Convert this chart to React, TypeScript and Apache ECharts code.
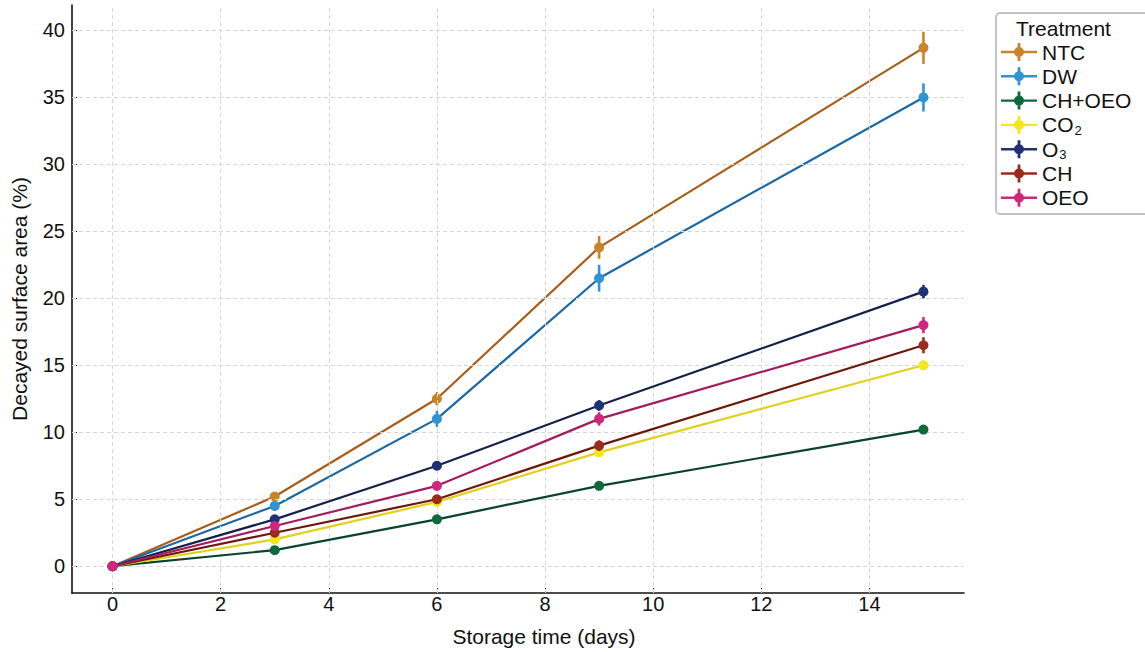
import React, { useEffect, useRef } from "react";
import * as echarts from "echarts";

const days = [0, 3, 6, 9, 15];
const seriesNames = ["NTC", "DW", "CH+OEO", "CO₂", "O₃", "CH", "OEO"];
const ntc = [0, 5.2, 12.5, 23.8, 38.7];
const ntcErr = [0, 0.3, 0.5, 0.85, 1.2];
const dw = [0, 4.5, 11.0, 21.5, 35.0];
const dwErr = [0, 0.3, 0.6, 1.0, 1.05];
const chOeo = [0, 1.2, 3.5, 6.0, 10.2];
const chOeoErr = [0, 0.2, 0.25, 0.25, 0.25];
const co2 = [0, 2.0, 4.8, 8.5, 15.0];
const co2Err = [0, 0.2, 0.3, 0.35, 0.35];
const o3 = [0, 3.5, 7.5, 12.0, 20.5];
const o3Err = [0, 0.25, 0.3, 0.4, 0.5];
const ch = [0, 2.5, 5.0, 9.0, 16.5];
const chErr = [0, 0.25, 0.3, 0.4, 0.6];
const oeo = [0, 3.0, 6.0, 11.0, 18.0];
const oeoErr = [0, 0.3, 0.35, 0.5, 0.6];
const yTicks = [0, 5, 10, 15, 20, 25, 30, 35, 40];
const xTicks = [0, 2, 4, 6, 8, 10, 12, 14];

const values = [ntc, dw, chOeo, co2, o3, ch, oeo];
const errors = [ntcErr, dwErr, chOeoErr, co2Err, o3Err, chErr, oeoErr];
const lineColors = ["#a85e18", "#1a68a6", "#0b4429", "#e0d11c", "#16214b", "#6c190c", "#a21c5e"];
const markerColors = ["#c8842b", "#2f93d6", "#0e6a3a", "#f3e61a", "#1f3175", "#9b2b1a", "#d0267e"];

const FONT = "'Liberation Sans', Arial, Helvetica, sans-serif";
const ICON = "path://M0,7.8H36V10.2H0Z M16.6,0H19.4V18H16.6Z M13,9A5,5 0 1 1 23,9A5,5 0 1 1 13,9Z";

export default function App() {
  const ref = useRef<HTMLDivElement>(null);
  useEffect(() => {
    if (!ref.current) return;
    const chart = echarts.init(ref.current, null, { renderer: "svg" });
    const series: any[] = [];
    series.push({
      type: "line",
      name: "grid",
      data: [],
      z: 0,
      silent: true,
      markLine: {
        silent: true,
        symbol: "none",
        label: { show: false },
        lineStyle: { color: "#d6d6d6", type: [4, 3], width: 1 },
        data: [
          ...yTicks.map((v) => ({ yAxis: v })),
          ...xTicks.map((v) => ({ xAxis: v })),
        ],
      },
    });
    values.forEach((vals, i) => {
      series.push({
        type: "line",
        name: seriesNames[i],
        z: 2 + i * 2,
        data: days.map((d, j) => [d, vals[j]]),
        symbol: "circle",
        symbolSize: 10,
        showSymbol: false,
        lineStyle: { color: lineColors[i], width: 2.2 },
        itemStyle: { color: markerColors[i], borderWidth: 0 },
      });
      series.push({
        type: "custom",
        name: seriesNames[i] + " err",
        z: 3 + i * 2,
        silent: true,
        data: days.map((d, j) => [d, vals[j], vals[j] - errors[i][j], vals[j] + errors[i][j]]),
        renderItem: (params: any, api: any) => {
          const x = api.value(0);
          const c = api.coord([x, api.value(1)]);
          const lo = api.coord([x, api.value(2)]);
          const hi = api.coord([x, api.value(3)]);
          return {
            type: "group",
            children: [
              {
                type: "line",
                shape: { x1: lo[0], y1: lo[1], x2: hi[0], y2: hi[1] },
                style: { stroke: markerColors[i], lineWidth: 2.6 },
              },
              {
                type: "circle",
                shape: { cx: c[0], cy: c[1], r: 5 },
                style: { fill: markerColors[i], stroke: "none" },
              },
            ],
          };
        },
      });
    });

    chart.setOption({
      animation: false,
      backgroundColor: "#ffffff",
      textStyle: { fontFamily: FONT },
      grid: { left: 72, top: 5, right: 181, bottom: 59, containLabel: false },
      xAxis: {
        type: "value",
        min: -0.75,
        max: 15.75,
        name: "Storage time (days)",
        nameLocation: "middle",
        nameGap: 33,
        nameTextStyle: { fontSize: 21, color: "#111", fontFamily: FONT, padding: [0, 0, 0, 52] },
        axisLine: { show: true, onZero: false, lineStyle: { color: "#111", width: 1.6 } },
        axisTick: { show: true, inside: true, length: 5, customValues: xTicks, lineStyle: { color: "#111", width: 1 } },
        axisLabel: { show: true, customValues: xTicks, fontSize: 20, color: "#111", margin: 1, fontFamily: FONT },
        splitLine: { show: false },
      },
      yAxis: {
        type: "value",
        min: -2,
        max: 41.9,
        name: "Decayed surface area (%)",
        nameLocation: "middle",
        nameGap: 42,
        nameTextStyle: { fontSize: 21, color: "#111", fontFamily: FONT },
        axisLine: { show: true, onZero: false, lineStyle: { color: "#111", width: 1.6 } },
        axisTick: { show: true, inside: true, length: 5, customValues: yTicks, lineStyle: { color: "#111", width: 1 } },
        axisLabel: { show: true, customValues: yTicks, fontSize: 20, color: "#111", margin: 7, fontFamily: FONT },
        splitLine: { show: false },
      },
      legend: {
        data: seriesNames.map((n) => ({ name: n, icon: ICON })),
        orient: "vertical",
        left: 1001,
        top: 40,
        itemWidth: 36,
        itemHeight: 18,
        itemGap: 0.3,
        padding: 0,
        selectedMode: false,
        textStyle: {
          fontSize: 21,
          lineHeight: 24,
          color: "#111",
          fontFamily: FONT,
          rich: {
            n: { fontSize: 21, lineHeight: 24, color: "#111", fontFamily: FONT },
            s: { fontSize: 13, lineHeight: 13, color: "#111", fontFamily: FONT, verticalAlign: "bottom", padding: [0, 0, 0, 1] },
          },
        },
        formatter: (name: string) => {
          if (name === "CO₂") return "{n|CO}{s|2}";
          if (name === "O₃") return "{n|O}{s|3}";
          return name;
        },
      },
      graphic: [
        {
          type: "rect",
          shape: { x: 996, y: 13, width: 160, height: 201, r: 4 },
          style: { fill: "#ffffff", stroke: "#b0b0b0", lineWidth: 1.5 },
          z: -1,
        },
        {
          type: "text",
          x: 1016,
          y: 18,
          style: { text: "Treatment", fontSize: 21, fill: "#111", fontFamily: FONT },
        },
      ],
      series,
    });
    return () => chart.dispose();
  }, []);
  return <div ref={ref} style={{ width: 1145, height: 652, position: "absolute", left: 0, top: 0 }} />;
}
